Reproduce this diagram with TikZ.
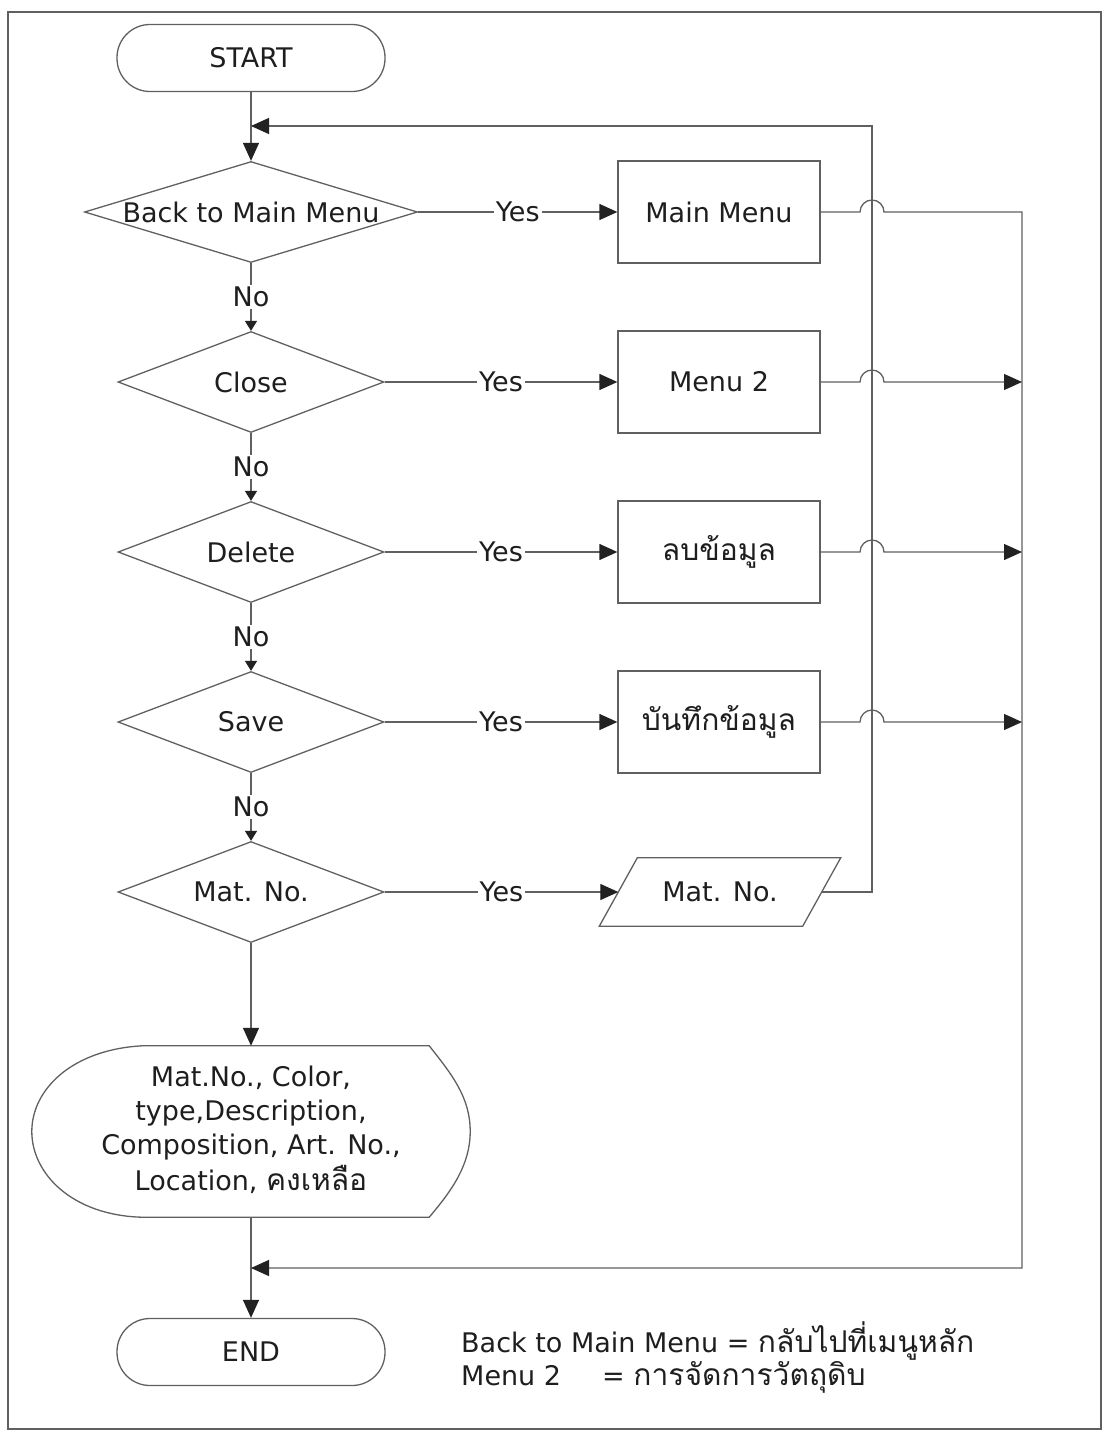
\documentclass[tikz,border=0pt]{standalone}
\usepackage{fontspec}
\setmainfont{DejaVu Sans}
\newfontfamily\thai[Script=Thai]{Loma}
\usetikzlibrary{arrows.meta,calc,shapes.geometric}
\definecolor{linegray}{HTML}{606060}
\definecolor{tipdark}{HTML}{222222}
\definecolor{textdark}{HTML}{1E1E1E}
% Thai words at text size
\newcommand\thbig[1]{{\thai\fontsize{30}{34}\selectfont #1}}
\begin{document}
\begin{tikzpicture}[x=1pt,y=1pt,
  line/.style={draw=linegray, line width=1.3pt},
  big/.style={-{Triangle[length=18pt,width=16pt,color=tipdark]}},
  small/.style={-{Triangle[length=10pt,width=12pt,color=tipdark]}},
  term/.style={draw=linegray, line width=1.3pt, rounded corners=33pt,
    minimum width=268pt, minimum height=67pt, inner sep=0pt},
  dec/.style={diamond, draw=linegray, line width=1.3pt, inner sep=0pt,
    minimum width=266pt, minimum height=101pt},
  proc/.style={rectangle, draw=linegray, line width=1.3pt, inner sep=0pt,
    minimum width=202pt, minimum height=102pt},
  lbl/.style={fill=white, inner sep=2pt},
  legend/.style={anchor=base west, inner sep=0pt},
  font=\fontsize{27}{34}\selectfont, text=textdark]

\useasboundingbox (0,0) rectangle (1109,-1437);
% outer frame
\draw[linegray, line width=1.3pt] (8,-12) rectangle (1101,-1429);

% terminals and decisions on the main column
\node[term] (start) at (251,-58) {START};
\node[dec, minimum width=333pt] (d1) at (251,-212) {\makebox[0pt]{Back to Main Menu}};
\node[dec] (d2) at (251,-382) {\makebox[0pt]{Close}};
\node[dec] (d3) at (251,-552) {\makebox[0pt]{Delete}};
\node[dec] (d4) at (251,-722) {\makebox[0pt]{Save}};
\node[dec] (d5) at (251,-892) {\makebox[0pt]{Mat. No.}};

% actions on the right
\node[proc] (b1) at (719,-212) {Main Menu};
\node[proc] (b2) at (719,-382) {Menu 2};
\node[proc] (b3) at (719,-552) {\thbig{ลบข้อมูล}};
\node[proc] (b4) at (719,-722) {\thbig{บันทึกข้อมูล}};
\node[minimum width=203pt, minimum height=68pt, inner sep=0pt] (mat) at (720,-892) {Mat. No.};
\draw[line] ($(mat.north west)+(19,0)$) -- ($(mat.north east)+(19,0)$)
  -- ($(mat.south east)+(-19,0)$) -- ($(mat.south west)+(-19,0)$) -- cycle;

% display output
\node[minimum width=438pt, minimum height=171pt, inner sep=0pt] (disp) at (251,-1131.5)
  {\raisebox{-4pt}{\begin{tabular}{@{}c@{}}Mat.No., Color,\\type,Description,\\Composition, Art. No.,\\Location, \thbig{คงเหลือ}\end{tabular}}};
\draw[line] ($(disp.north west)+(110,0)$) -- ($(disp.north east)+(-41,0)$)
  .. controls +(23,-29) and +(0,34) .. (disp.east)
  .. controls +(0,-33) and +(23,27) .. ($(disp.south east)+(-41,0)$)
  -- ($(disp.south west)+(110,0)$)
  .. controls +(-70,2) and +(0,-42) .. (disp.west)
  .. controls +(0,42) and +(-70,-4) .. cycle;

\node[term] (end) at (251,-1352) {END};

% junction points of the return lines
\coordinate (lp) at (872,-126);
\coordinate (rt) at (1022,-1268);

% main flow
\draw[line,big] (start) -- (d1);
\draw[line,small] (d1) -- node[lbl] {No} (d2);
\draw[line,small] (d2) -- node[lbl] {No} (d3);
\draw[line,small] (d3) -- node[lbl] {No} (d4);
\draw[line,small] (d4) -- node[lbl] {No} (d5);
\draw[line,big] (d5) -- (disp);
\draw[line,big] (disp) -- (end);

% yes branches
\draw[line,big] (d1) -- node[lbl] {Yes} (b1);
\draw[line,big] (d2) -- node[lbl] {Yes} (b2);
\draw[line,big] (d3) -- node[lbl] {Yes} (b3);
\draw[line,big] (d4) -- node[lbl] {Yes} (b4);
\draw[line,big] (d5) -- node[lbl] {Yes} (mat);

% loop back to the first decision
\draw[line,big] (mat.east) -| (lp) -- (lp -| d1.north);

% exits to END, hopping over the loop line
\draw[line,big] (b1.east) -- ($(b1.east -| lp)+(-12,0)$) arc (180:0:12)
  -- (b1.east -| rt) -- (rt) -- (rt -| end.north);
\draw[line,big] (b2.east) -- ($(b2.east -| lp)+(-12,0)$) arc (180:0:12) -- (b2.east -| rt);
\draw[line,big] (b3.east) -- ($(b3.east -| lp)+(-12,0)$) arc (180:0:12) -- (b3.east -| rt);
\draw[line,big] (b4.east) -- ($(b4.east -| lp)+(-12,0)$) arc (180:0:12) -- (b4.east -| rt);

% legend
\node[legend] (leg1) at (461,-1352) {Back to Main Menu = \thbig{กลับไปที่เมนูหลัก}};
\node[legend] (leg2) at (461,-1385) {\makebox[141pt][l]{Menu 2}= \thbig{การจัดการวัตถุดิบ}};
\end{tikzpicture}
\end{document}
